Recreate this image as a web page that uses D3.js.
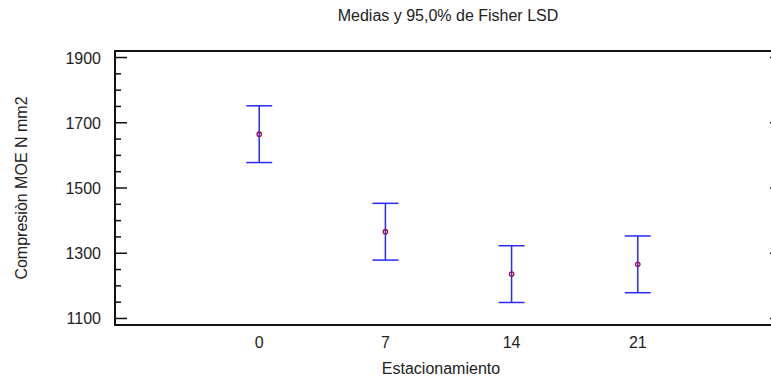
<!DOCTYPE html>
<html><head><meta charset="utf-8">
<script src="https://cdn.jsdelivr.net/npm/d3@7"></script>
<style>body{margin:0;background:#fff}svg{display:block}text{font-family:"Liberation Sans",Arial,sans-serif;fill:#222}</style>
</head><body>
<script>
const categories = [0, 7, 14, 21];
const means = [1665, 1366, 1236, 1266];
const lower = [1578, 1279, 1149, 1179];
const upper = [1752, 1453, 1323, 1353];
const yMajorTicks = [1100, 1300, 1500, 1700, 1900];
const yMinorTicks = d3.range(1100, 1901, 50);
const title = "Medias y 95,0% de Fisher LSD";
const xTitle = "Estacionamiento";
const yTitle = "Compresiòn MOE N mm2";

const W = 771, H = 380;
const svg = d3.select("body").append("svg").attr("width", W).attr("height", H);
const L = 115, R = 782, T = 51, B = 325;
const x = d3.scaleLinear().domain([-8, 29]).range([L, R]);
const y = d3.scaleLinear().domain([1080, 1920]).range([B, T]);
const fs = 16;

svg.append("text").attr("x", 448).attr("y", 21).attr("text-anchor", "middle").attr("font-size", fs).text(title);

// frame
svg.append("rect").attr("x", L).attr("y", T).attr("width", R - L).attr("height", B - T)
  .attr("fill", "none").attr("stroke", "#111").attr("stroke-width", 2);

// left axis ticks
svg.append("g").selectAll("line").data(yMinorTicks).join("line")
  .attr("x1", L).attr("x2", d => L + (yMajorTicks.includes(d) ? 12 : 6))
  .attr("y1", d => y(d)).attr("y2", d => y(d)).attr("stroke", "#111").attr("stroke-width", 1.5);
svg.append("g").selectAll("line").data(yMinorTicks).join("line")
  .attr("x1", R).attr("x2", d => R - (yMajorTicks.includes(d) ? 12 : 6))
  .attr("y1", d => y(d)).attr("y2", d => y(d)).attr("stroke", "#111").attr("stroke-width", 1.5);
svg.append("g").selectAll("text").data(yMajorTicks).join("text")
  .attr("x", L - 14).attr("y", d => y(d) + 6).attr("text-anchor", "end").attr("font-size", fs).text(d => d);

// x tick labels
svg.append("g").selectAll("text").data(categories).join("text")
  .attr("x", d => x(d)).attr("y", 348).attr("text-anchor", "middle").attr("font-size", fs).text(d => d);

svg.append("text").attr("x", 441).attr("y", 374).attr("text-anchor", "middle").attr("font-size", fs).text(xTitle);
svg.append("text").attr("transform", `translate(27,${(T + B) / 2}) rotate(-90)`).attr("text-anchor", "middle").attr("font-size", fs).text(yTitle);

// error bars
const g = svg.append("g");
const blue = "#2a2aff";
categories.forEach((c, i) => {
  const cx = x(c);
  g.append("line").attr("x1", cx).attr("x2", cx).attr("y1", y(lower[i])).attr("y2", y(upper[i])).attr("stroke", blue).attr("stroke-width", 1.5);
  [lower[i], upper[i]].forEach(v => g.append("line").attr("x1", cx - 13).attr("x2", cx + 13).attr("y1", y(v)).attr("y2", y(v)).attr("stroke", blue).attr("stroke-width", 1.5));
  g.append("circle").attr("cx", cx).attr("cy", y(means[i])).attr("r", 2.2).attr("fill", "none").attr("stroke", "#a0104a").attr("stroke-width", 1.3);
});
</script>
</body></html>
